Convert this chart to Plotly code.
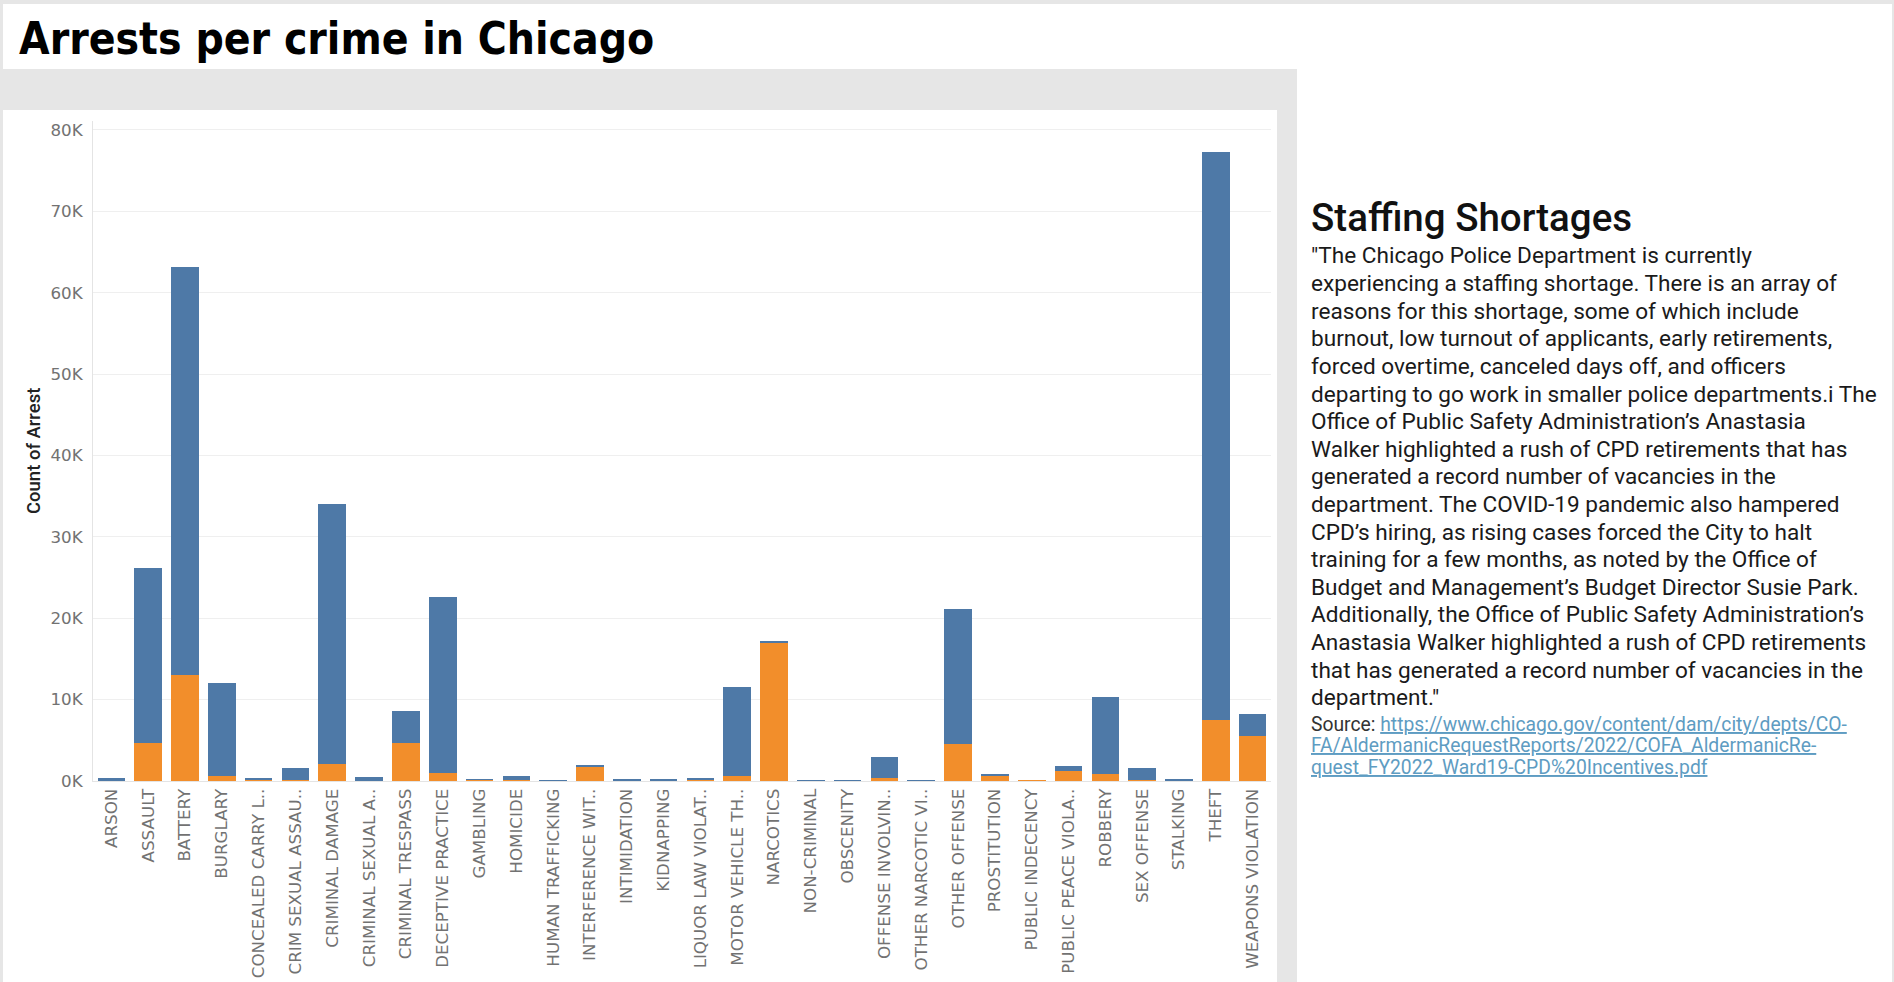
import plotly.graph_objects as go

W, H = 1894, 982

categories = [
    "ARSON", "ASSAULT", "BATTERY", "BURGLARY", "CONCEALED CARRY L..",
    "CRIM SEXUAL ASSAU..", "CRIMINAL DAMAGE", "CRIMINAL SEXUAL A..",
    "CRIMINAL TRESPASS", "DECEPTIVE PRACTICE", "GAMBLING", "HOMICIDE",
    "HUMAN TRAFFICKING", "INTERFERENCE WIT..", "INTIMIDATION", "KIDNAPPING",
    "LIQUOR LAW VIOLAT..", "MOTOR VEHICLE TH..", "NARCOTICS", "NON-CRIMINAL",
    "OBSCENITY", "OFFENSE INVOLVIN..", "OTHER NARCOTIC VI..", "OTHER OFFENSE",
    "PROSTITUTION", "PUBLIC INDECENCY", "PUBLIC PEACE VIOLA..", "ROBBERY",
    "SEX OFFENSE", "STALKING", "THEFT", "WEAPONS VIOLATION",
]

# Arrest = true (orange, bottom of stack)
arrest_true = [40, 4650, 13000, 650, 220, 150, 2100, 20, 4650, 1000, 160, 150,
               1, 1720, 20, 20, 240, 650, 17050, 0, 30, 400, 1, 4500, 660, 2,
               1200, 850, 100, 20, 7500, 5550]
# Arrest = false (blue, top of stack)
arrest_false = [390, 21550, 50200, 11350, 30, 1450, 31900, 460, 3950, 21650, 10,
                450, 3, 130, 230, 230, 10, 10950, 150, 1, 90, 2500, 1, 16600, 90,
                1, 650, 9450, 1500, 230, 69800, 2650]

y_tickvals = [0, 10000, 20000, 30000, 40000, 50000, 60000, 70000, 80000]
y_ticktext = ["0K", "10K", "20K", "30K", "40K", "50K", "60K", "70K", "80K"]

title_text = "Arrests per crime in Chicago"
side_title = "Staffing Shortages"
body_lines = [
    "\"The Chicago Police Department is currently",
    "experiencing a staffing shortage. There is an array of",
    "reasons for this shortage, some of which include",
    "burnout, low turnout of applicants, early retirements,",
    "forced overtime, canceled days off, and officers",
    "departing to go work in smaller police departments.i The",
    "Office of Public Safety Administration\u2019s Anastasia",
    "Walker highlighted a rush of CPD retirements that has",
    "generated a record number of vacancies in the",
    "department. The COVID-19 pandemic also hampered",
    "CPD\u2019s hiring, as rising cases forced the City to halt",
    "training for a few months, as noted by the Office of",
    "Budget and Management\u2019s Budget Director Susie Park.",
    "Additionally, the Office of Public Safety Administration\u2019s",
    "Anastasia Walker highlighted a rush of CPD retirements",
    "that has generated a record number of vacancies in the",
    "department.\"",
]
source_lines = [
    "https://www.chicago.gov/content/dam/city/depts/CO-",
    "FA/AldermanicRequestReports/2022/COFA_AldermanicRe-",
    "quest_FY2022_Ward19-CPD%20Incentives.pdf",
]

BLUE = "#4e79a7"
ORANGE = "#f28e2b"
TICK_FONT = dict(family="DejaVu Sans", size=16.7, color="#727272")
TEXT_FAMILY = "Roboto"


def px(x):
    return x / W


def py(y):
    return 1 - y / H


fig = go.Figure()
fig.add_trace(go.Bar(x=categories, y=arrest_true, name="True",
                     marker=dict(color=ORANGE, line=dict(width=0))))
fig.add_trace(go.Bar(x=categories, y=arrest_false, name="False",
                     marker=dict(color=BLUE, line=dict(width=0))))

shapes = [
    dict(type="rect", xref="paper", yref="paper", layer="below",
         x0=px(3), x1=px(1892), y0=py(69), y1=py(4),
         fillcolor="white", line=dict(width=0)),
    dict(type="rect", xref="paper", yref="paper", layer="below",
         x0=px(3), x1=px(1277), y0=py(982), y1=py(110),
         fillcolor="white", line=dict(width=0)),
    dict(type="rect", xref="paper", yref="paper", layer="below",
         x0=px(1297), x1=px(1892), y0=py(982), y1=py(4),
         fillcolor="white", line=dict(width=0)),
]

annotations = [
    dict(text=title_text, xref="paper", yref="paper", x=px(17), y=py(38.5),
         xanchor="left", yanchor="middle", showarrow=False,
         font=dict(family="DejaVu Sans Condensed, Lato", size=44, color="#000000", weight="bold")),
    dict(text="Count of Arrest", xref="paper", yref="paper", x=px(34), y=py(451),
         xanchor="center", yanchor="middle", showarrow=False, textangle=-90,
         font=dict(family=TEXT_FAMILY, size=18.5, color="#222222", weight=500)),
    dict(text=side_title, xref="paper", yref="paper", x=px(1309), y=py(218),
         xanchor="left", yanchor="middle", showarrow=False,
         font=dict(family=TEXT_FAMILY, size=38.5, color="#111111", weight=500)),
]

for i, line in enumerate(body_lines):
    annotations.append(dict(
        text=line, xref="paper", yref="paper", x=px(1309), y=py(256 + i * 27.6),
        xanchor="left", yanchor="middle", showarrow=False,
        font=dict(family=TEXT_FAMILY, size=22.6, color="#1a1a1a")))

for i, line in enumerate(source_lines):
    prefix = "Source: " if i == 0 else ""
    annotations.append(dict(
        text=prefix + "<span style='color:#5e9cc2'><u>" + line + "</u></span>",
        xref="paper", yref="paper", x=px(1309), y=py(724 + i * 21.7),
        xanchor="left", yanchor="middle", showarrow=False,
        font=dict(family=TEXT_FAMILY, size=19.3, color="#333333")))

fig.update_layout(
    width=W, height=H,
    margin=dict(l=0, r=0, t=0, b=0, autoexpand=False),
    paper_bgcolor="#e6e6e6",
    plot_bgcolor="rgba(0,0,0,0)",
    barmode="stack",
    bargap=0.25,
    showlegend=False,
    shapes=shapes,
    annotations=annotations,
    xaxis=dict(domain=[px(93), px(1271)], type="category", tickangle=-90,
               tickfont=TICK_FONT, showgrid=False, showline=True,
               linecolor="#e4e4e4", ticks="", fixedrange=True, automargin=False),
    yaxis=dict(domain=[py(781), py(121)], range=[0, 81100],
               tickvals=y_tickvals, ticktext=y_ticktext, tickfont=TICK_FONT,
               showgrid=True, gridcolor="#efefef", gridwidth=1,
               zeroline=False, showline=True, linecolor="#e4e4e4",
               ticks="outside", ticklen=6, tickcolor="rgba(0,0,0,0)",
               fixedrange=True, automargin=False),
)

fig.write_html("out.html", config={"displayModeBar": False},
               post_script="document.body.style.margin='0';document.body.style.overflow='hidden';")
